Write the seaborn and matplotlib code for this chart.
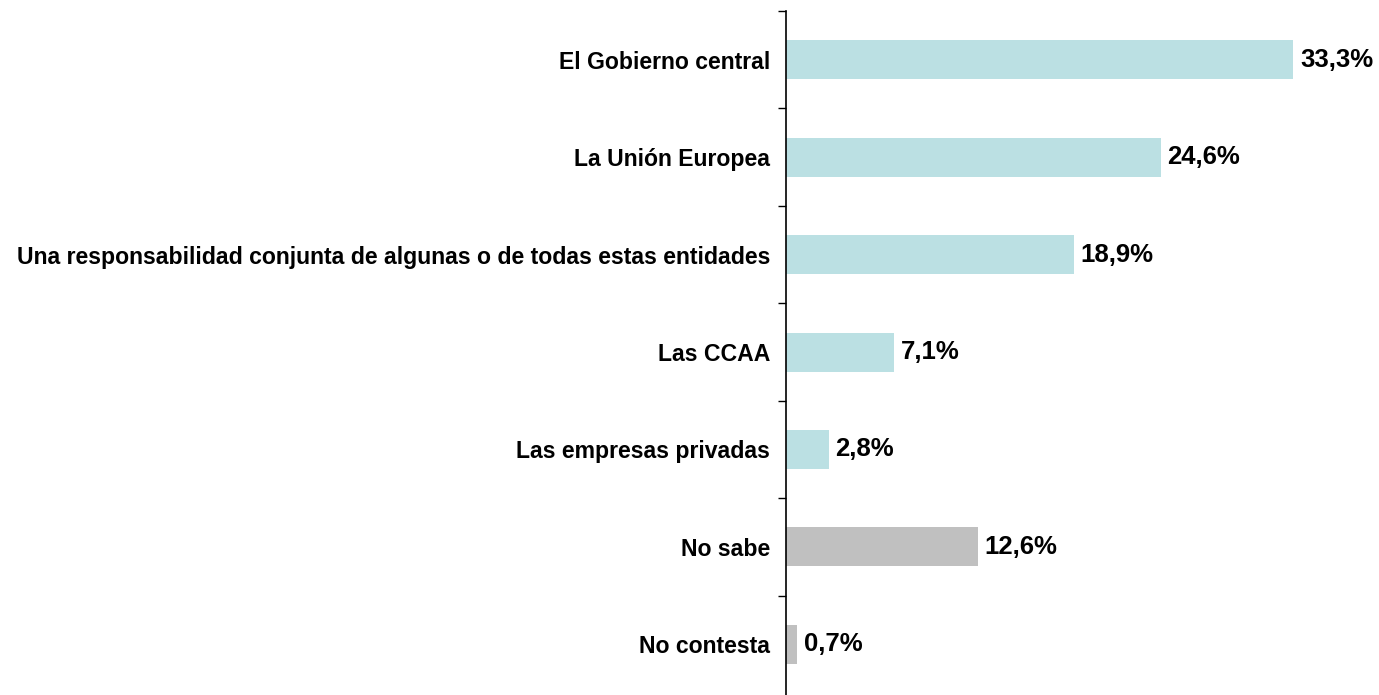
import matplotlib
matplotlib.use("Agg")
import matplotlib.pyplot as plt
import seaborn as sns
import pandas as pd

categories = [
    "El Gobierno central",
    "La Unión Europea",
    "Una responsabilidad conjunta de algunas o de todas estas entidades",
    "Las CCAA",
    "Las empresas privadas",
    "No sabe",
    "No contesta",
]
values = [33.3, 24.6, 18.9, 7.1, 2.8, 12.6, 0.7]
value_labels = ["33,3%", "24,6%", "18,9%", "7,1%", "2,8%", "12,6%", "0,7%"]
bar_colors = ["#BBE0E3"] * 5 + ["#C0C0C0"] * 2

sns.set_theme(style="white")
plt.rcParams["font.family"] = ["Liberation Sans", "DejaVu Sans"]
plt.rcParams["text.color"] = "black"
plt.rcParams["ytick.color"] = "black"

df = pd.DataFrame({"categoria": categories, "valor": values})

fig = plt.figure(figsize=(13.79, 6.95), dpi=100)
ax = fig.add_axes([786 / 1379, 0, 1 - 786 / 1379, 684 / 695])

sns.barplot(data=df, y="categoria", x="valor", hue="categoria",
            palette=bar_colors, legend=False, width=0.4, ax=ax,
            saturation=1, edgecolor="none")

ax.set_xlim(0, (1379 - 786) / 15.23)
ax.set_ylim(6.52, -0.5)
ax.set_xlabel("")
ax.set_ylabel("")
ax.set_xticks([])

for s in ["top", "right", "bottom"]:
    ax.spines[s].set_visible(False)
ax.spines["left"].set_color("black")
ax.spines["left"].set_linewidth(1.2)

ax.set_yticks(range(len(categories)))
ax.set_yticklabels(categories, fontsize=16.6, fontweight="bold", color="black")
ax.tick_params(axis="y", which="major", length=0, pad=11.5)
ax.set_yticks([i - 0.5 for i in range(len(categories))], minor=True)
ax.tick_params(axis="y", which="minor", length=6, width=1, color="black", direction="out", left=True)

for i, (v, lab) in enumerate(zip(values, value_labels)):
    ax.text(v + 0.45, i, lab, va="center", ha="left", fontsize=18.5,
            fontweight="bold", color="black")

fig.savefig("out.png", dpi=100)
